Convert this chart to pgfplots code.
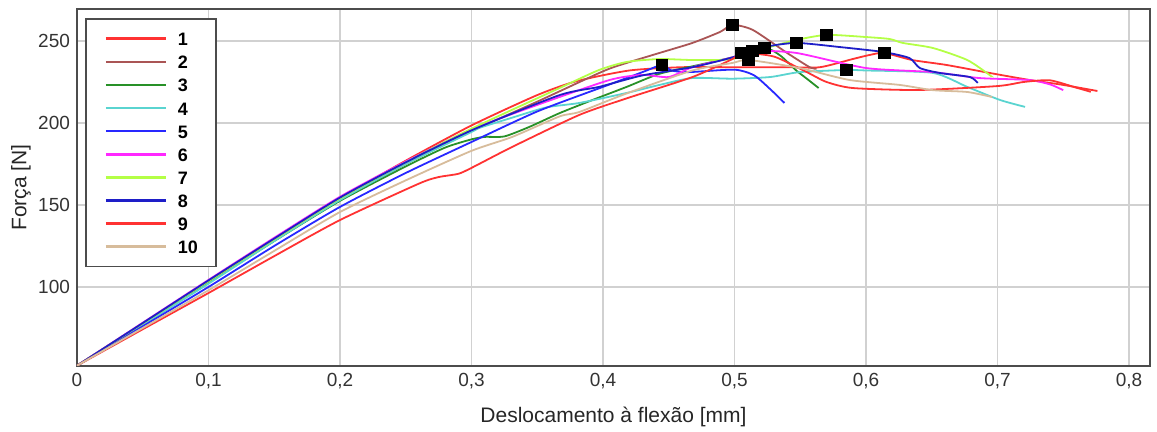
\documentclass[border=0pt]{standalone}
\usepackage{fontspec}
\setmainfont{Liberation Sans}
\usepackage{pgfplots}
\pgfplotsset{compat=1.18}

\definecolor{cA}{RGB}{255,50,50}
\definecolor{cB}{RGB}{170,85,85}
\definecolor{cC}{RGB}{40,145,40}
\definecolor{cD}{RGB}{90,212,208}
\definecolor{cE}{RGB}{40,40,255}
\definecolor{cF}{RGB}{255,40,255}
\definecolor{cG}{RGB}{180,255,70}
\definecolor{cH}{RGB}{30,30,200}
\definecolor{cI}{RGB}{255,50,50}
\definecolor{cJ}{RGB}{215,188,155}

\begin{document}
\begin{tikzpicture}
\useasboundingbox (-38.5pt,-33pt) rectangle (540pt,183pt);
\begin{axis}[
  at={(0pt,0pt)}, anchor=south west,
  scale only axis, width=536.5pt, height=178.5pt,
  xmin=0, xmax=0.816, ymin=51.8, ymax=269.5,
  xtick={0,0.1,0.2,0.3,0.4,0.5,0.6,0.7,0.8},
  ytick={100,150,200,250},
  /pgf/number format/use comma,
  /pgf/number format/assume math mode=true,
  tick label style={font=\fontsize{9.5}{11}\selectfont, text=black!80},
  major tick length=0pt,
  grid=major,
  major grid style={draw=black!18, line width=0.8pt},
  axis line style={draw=black!70, line width=1pt},
  xlabel={Deslocamento à flexão [mm]},
  ylabel={Força [N]},
  label style={font=\fontsize{10.5}{12}\selectfont, text=black!85},
  xlabel style={at={(axis description cs:0.5,-0.143)}, anchor=center},
  ylabel style={at={(axis description cs:-0.0522,0.5)}, anchor=center},
  every axis plot/.append style={line width=0.9pt, mark=none, smooth, tension=0.4},
  legend image code/.code={
    \path[draw=none] (0pt,0pt) -- (37pt,0pt);
    \draw[line width=1.3pt] (2.5pt,0pt) -- (32.5pt,0pt);},
  legend cell align=left,
  legend style={at={(rel axis cs:0,1)}, anchor=north west,
    xshift=4pt, yshift=-4.5pt,
    draw=black!70, line width=0.8pt, fill=white,
    inner xsep=7.5pt, inner ysep=4.2pt, column sep=0pt, row sep=0pt,
    font=\bfseries\fontsize{9}{10}\selectfont,
    nodes={inner xsep=1.5pt, inner ysep=2.275pt, text height=7pt, text depth=0pt}},
]
% 1
\addplot[color=cA] coordinates {
(0,52)(0.05,77.8)(0.1,103.5)(0.15,129)(0.2,154)(0.25,177)(0.3,198.5)(0.35,217)(0.38,225.5)
(0.42,232)(0.46,234)(0.5,234)(0.54,234)(0.565,234)(0.59,239)(0.603,241.5)(0.614,242.7)
(0.635,238.4)(0.661,235.4)(0.694,230.5)(0.7245,226.2)(0.75,223.2)(0.776,219.5)};
\addlegendentry{1}
% 2
\addplot[color=cB] coordinates {
(0,52)(0.05,77.5)(0.1,103)(0.15,128.5)(0.2,153)(0.25,175)(0.3,195)(0.35,213)(0.4,231.5)
(0.418,236.6)(0.443,242.7)(0.468,248.8)(0.489,255.5)(0.4985,259.8)(0.514,256.7)
(0.54,242.7)(0.557,234.1)(0.5624,233)};
\addlegendentry{2}
% 3
\addplot[color=cC] coordinates {
(0,52)(0.05,77.3)(0.1,102.5)(0.15,128)(0.2,152.5)(0.25,173.5)(0.28,185)(0.3,190)
(0.31,191.5)(0.325,191.8)(0.344,197.6)(0.367,206)(0.392,214)(0.418,222)(0.443,230)
(0.473,235.4)(0.4985,240)(0.523,245.7)(0.535,241)(0.547,232)(0.555,227)(0.564,221.3)};
\addlegendentry{3}
% 4
\addplot[color=cD] coordinates {
(0,52)(0.05,77)(0.1,102)(0.15,128)(0.2,153)(0.25,175)(0.3,194.5)(0.306,197)(0.33,203)
(0.357,209.5)(0.382,212.2)(0.418,218.3)(0.443,223.2)(0.468,227.4)(0.4985,227)(0.527,228)
(0.5495,231)(0.585,232.3)(0.6005,232)(0.651,230.5)(0.677,222)(0.702,214)(0.721,209.8)};
\addlegendentry{4}
% 5
\addplot[color=cE] coordinates {
(0,52)(0.05,76)(0.1,100)(0.15,125)(0.2,148.8)(0.25,169.5)(0.3,188.4)(0.35,207)(0.4,222)
(0.43,231)(0.445,235.4)(0.452,232)(0.465,231)(0.5,232.5)(0.515,229)(0.528,220)(0.538,212.2)};
\addlegendentry{5}
% 6
\addplot[color=cF] coordinates {
(0,52)(0.05,78.2)(0.1,104.3)(0.15,130)(0.2,155)(0.25,176.5)(0.3,196)(0.35,211)
(0.405,226.2)(0.43,229.3)(0.45,228)(0.468,234)(0.4985,240)(0.5137,243.9)(0.547,242.7)
(0.6,233.5)(0.651,231)(0.686,227.4)(0.724,226.2)(0.74,223.5)(0.75,220)};
\addlegendentry{6}
% 7
\addplot[color=cG] coordinates {
(0,52)(0.05,77.8)(0.1,103.5)(0.15,129)(0.2,154)(0.25,176)(0.3,196.5)(0.367,221.3)
(0.397,232.3)(0.418,237.2)(0.443,239)(0.468,238.4)(0.4985,239)(0.527,246.3)(0.547,250.6)
(0.57,253.7)(0.6,252.4)(0.618,251.2)(0.628,248.8)(0.651,245.7)(0.677,238.4)(0.694,229.3)
(0.695,228.5)};
\addlegendentry{7}
% 8
\addplot[color=cH] coordinates {
(0,52)(0.05,78)(0.1,104)(0.15,129.5)(0.2,154.5)(0.25,176)(0.3,195.5)(0.367,217)
(0.397,222)(0.43,229)(0.468,234)(0.4985,240)(0.523,246.3)(0.547,248.8)(0.58,246.3)
(0.613,243.3)(0.633,239.6)(0.641,233.5)(0.656,230.5)(0.679,228)(0.685,224.4)};
\addlegendentry{8}
% 9
\addplot[color=cI] coordinates {
(0,52)(0.05,74.2)(0.1,96.3)(0.15,118.8)(0.2,140.8)(0.26,163)(0.275,167)(0.29,169)
(0.3,172.6)(0.331,185.4)(0.382,204.9)(0.418,215)(0.468,228)(0.4985,239)(0.505,242.7)
(0.53,240.5)(0.555,231)(0.57,225)(0.59,221.3)(0.64,220.1)(0.7,222.5)(0.72,225)(0.74,226)
(0.76,221.5)(0.771,219)};
\addlegendentry{9}
% 10
\addplot[color=cJ] coordinates {
(0,52)(0.05,75)(0.1,98)(0.15,122)(0.2,145.7)(0.25,165)(0.3,183)(0.331,191.5)(0.367,204)
(0.382,206.7)(0.418,218)(0.468,232)(0.4985,236.6)(0.5107,238.4)(0.5495,233.5)
(0.5875,226.2)(0.6256,223.2)(0.651,220)(0.677,218.9)(0.696,215.8)};
\addlegendentry{10}
% peaks
\addplot[only marks, mark=square*, mark size=2.7pt, black, forget plot] coordinates {
(0.4985,259.8)(0.5053,242.7)(0.5107,238.4)(0.5137,243.9)(0.5228,245.7)
(0.547,248.8)(0.570,253.7)(0.585,232.3)(0.614,242.7)(0.445,235.4)};
\end{axis}
\end{tikzpicture}
\end{document}
